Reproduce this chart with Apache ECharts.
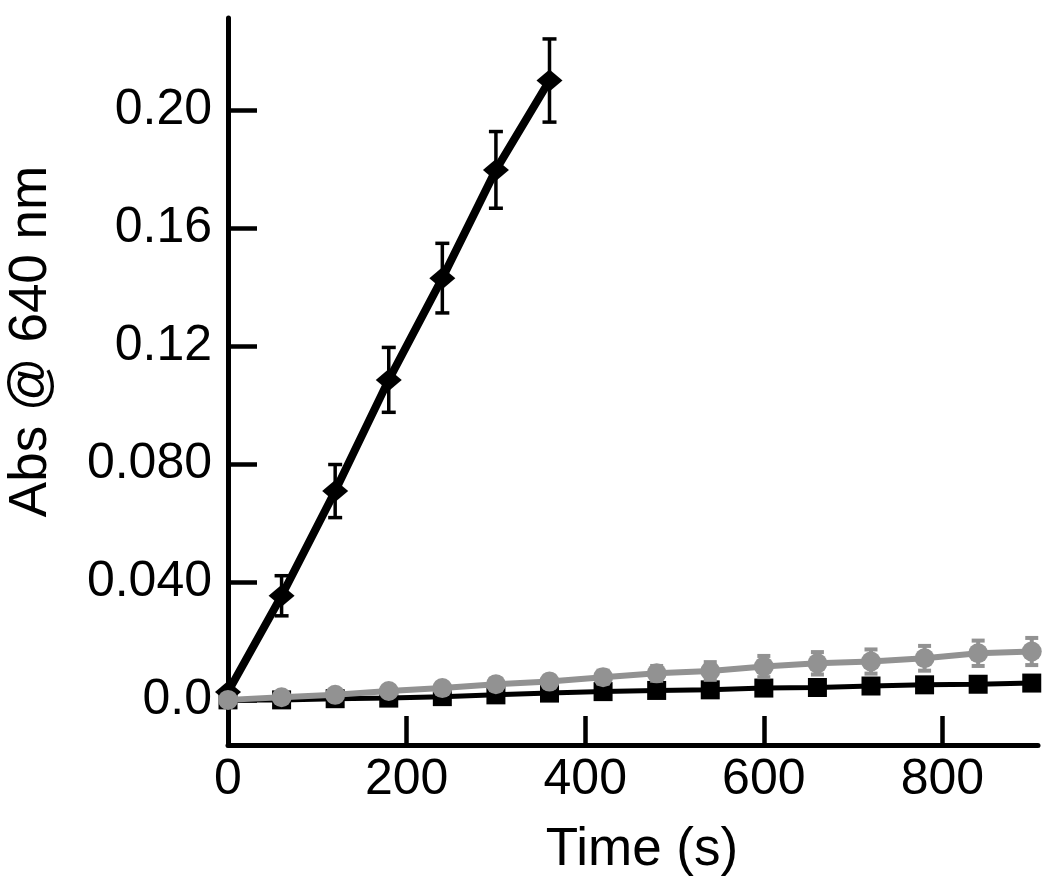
<!DOCTYPE html>
<html>
<head>
<meta charset="utf-8">
<script src="https://cdn.jsdelivr.net/npm/echarts@6/dist/echarts.min.js"></script>
<style>
html,body{margin:0;padding:0;background:#fff;}
#chart{width:1050px;height:886px;}
</style>
</head>
<body>
<div id="chart"></div>
<script>
// ---- data ----
const diamondTime = [0, 60, 120, 180, 240, 300, 360];
const diamondAbs  = [0.0027, 0.0353, 0.0708, 0.1085, 0.143, 0.1797, 0.210];
const diamondErr  = [0, 0.0068, 0.009, 0.011, 0.0118, 0.013, 0.0141];

const longTime  = [0, 60, 120, 180, 240, 300, 360, 420, 480, 540, 600, 660, 720, 780, 840, 900];
const circleAbs = [0.0, 0.0009, 0.0017, 0.003, 0.004, 0.0053, 0.0062, 0.0077, 0.009, 0.0098, 0.0113, 0.0124, 0.013, 0.0141, 0.0158, 0.0164];
const circleErr = [0.001, 0.001, 0.0012, 0.0015, 0.0018, 0.002, 0.002, 0.0022, 0.0025, 0.003, 0.0036, 0.0038, 0.0041, 0.0042, 0.0043, 0.0046];
const squareAbs = [0.0, 0.0, 0.0004, 0.0006, 0.0011, 0.0017, 0.0023, 0.0028, 0.0032, 0.0034, 0.004, 0.0042, 0.0047, 0.0051, 0.0053, 0.0057];

const xTickValues = [0, 200, 400, 600, 800];
const yTickValues = [0, 0.04, 0.08, 0.12, 0.16, 0.20];
const yTickLabels = ['0.0', '0.040', '0.080', '0.12', '0.16', '0.20'];

const xTitle = 'Time (s)';
const yTitle = 'Abs @ 640 nm';

// ---- build ----
const pairs = (xs, ys) => xs.map((x, i) => [x, ys[i]]);
const triples = (xs, ys, es) => xs.map((x, i) => [x, ys[i], es[i]]);

function errorBar(color, width, capHalf) {
  return function (params, api) {
    const x = api.value(0), y = api.value(1), e = api.value(2);
    if (!e) return null;
    const t = api.coord([x, y + e]);
    const b = api.coord([x, y - e]);
    const st = { stroke: color, lineWidth: width };
    return {
      type: 'group',
      children: [
        { type: 'line', shape: { x1: t[0], y1: t[1], x2: b[0], y2: b[1] }, style: st },
        { type: 'line', shape: { x1: t[0] - capHalf, y1: t[1], x2: t[0] + capHalf, y2: t[1] }, style: st },
        { type: 'line', shape: { x1: b[0] - capHalf, y1: b[1], x2: b[0] + capHalf, y2: b[1] }, style: st }
      ]
    };
  };
}

const FONT = "'Liberation Sans', Arial, Helvetica, sans-serif";
const GRAY = '#929292';

const option = {
  animation: false,
  backgroundColor: '#fff',
  grid: { left: 228, right: 12, top: 18, bottom: 141, containLabel: false, outerBoundsMode: 'none' },
  xAxis: {
    type: 'value',
    min: 0, max: 907,
    name: xTitle,
    nameLocation: 'middle',
    nameGap: 79,
    nameTextStyle: { fontFamily: FONT, fontSize: 53, color: '#000', padding: [0, 0, 0, 18] },
    axisLine: { onZero: false, lineStyle: { color: '#000', width: 5 } },
    axisTick: { inside: true, length: 29, customValues: xTickValues, lineStyle: { color: '#000', width: 4.5 } },
    axisLabel: { customValues: xTickValues, fontFamily: FONT, fontSize: 50, color: '#000', margin: 10 },
    splitLine: { show: false }
  },
  yAxis: {
    type: 'value',
    min: -0.0153, max: 0.2312,
    name: yTitle,
    nameLocation: 'middle',
    nameGap: 170,
    nameRotate: 90,
    nameTextStyle: { fontFamily: FONT, fontSize: 53, color: '#000', padding: [0, 0, 0, 80] },
    axisLine: { onZero: false, lineStyle: { color: '#000', width: 5 } },
    axisTick: { inside: true, length: 29, customValues: yTickValues, lineStyle: { color: '#000', width: 4.5 } },
    axisLabel: {
      customValues: yTickValues,
      fontFamily: FONT, fontSize: 50, color: '#000', margin: 16,
      formatter: function (v) {
        for (let i = 0; i < yTickValues.length; i++) {
          if (Math.abs(v - yTickValues[i]) < 1e-9) return yTickLabels[i];
        }
        return '';
      }
    },
    splitLine: { show: false }
  },
  series: [
    {
      type: 'line', name: 'squares', data: pairs(longTime, squareAbs),
      symbol: 'rect', symbolSize: 19, showAllSymbol: true, z: 2,
      lineStyle: { color: '#000', width: 5 },
      itemStyle: { color: '#000' }
    },
    {
      type: 'custom', name: 'diamond err', data: triples(diamondTime, diamondAbs, diamondErr),
      renderItem: errorBar('#000', 3.5, 7), z: 3
    },
    {
      type: 'line', name: 'diamonds', data: pairs(diamondTime, diamondAbs),
      symbol: 'diamond', symbolSize: [26, 22], showAllSymbol: true, z: 4,
      lineStyle: { color: '#000', width: 8 },
      itemStyle: { color: '#000' }
    },
    {
      type: 'custom', name: 'circle err', data: triples(longTime, circleAbs, circleErr),
      renderItem: errorBar(GRAY, 4, 6.5), z: 5
    },
    {
      type: 'line', name: 'circles', data: pairs(longTime, circleAbs),
      symbol: 'circle', symbolSize: 20, showAllSymbol: true, z: 6,
      lineStyle: { color: GRAY, width: 6 },
      itemStyle: { color: GRAY }
    }
  ]
};

const chart = echarts.init(document.getElementById('chart'), null, { renderer: 'canvas' });
chart.setOption(option);
</script>
</body>
</html>
